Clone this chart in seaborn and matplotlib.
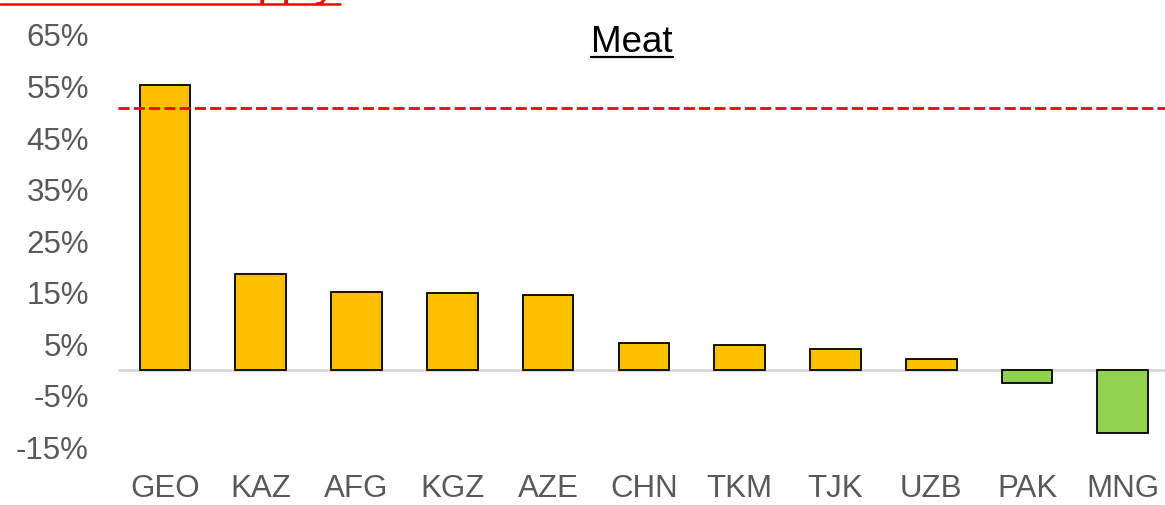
import numpy as np
import pandas as pd
import matplotlib
matplotlib.use("Agg")
import matplotlib.pyplot as plt
from matplotlib.lines import Line2D
import seaborn as sns

# Change in meat supply by country (%)
countries = ["GEO", "KAZ", "AFG", "KGZ", "AZE", "CHN", "TKM", "TJK", "UZB", "PAK", "MNG"]
change_pct = [55.3, 18.7, 15.2, 14.9, 14.5, 5.2, 4.8, 4.2, 2.1, -2.5, -12.2]
reference_pct = 50.8
y_ticks = [-15, -5, 5, 15, 25, 35, 45, 55, 65]
title_text = "Meat"
header_text = "Share of total supply"

sns.set_theme(style="white")
plt.rcParams["font.family"] = ["Liberation Sans", "DejaVu Sans"]

df = pd.DataFrame({
    "country": countries,
    "change": change_pct,
    "sign": ["up" if v >= 0 else "down" for v in change_pct],
})

W, H = 1165, 505
fig = plt.figure(figsize=(W / 100, H / 100), dpi=100)
ax = fig.add_axes([118 / W, 1 - 447.5 / H, 1 - 118 / W, (447.5 - 35) / H])

sns.barplot(
    data=df, x="country", y="change", hue="sign",
    palette={"up": "#FFC000", "down": "#92D050"}, saturation=1,
    dodge=False, width=0.53, edgecolor="black", linewidth=1.3,
    legend=False, ax=ax, zorder=3,
)

ax.set_ylim(-15, 65)
ax.set_xlim(-0.49, len(countries) - 0.56)
ax.set_yticks(y_ticks)
ax.set_yticklabels([f"{t}%" for t in y_ticks])
ax.tick_params(axis="y", length=0, pad=21, labelsize=22.5, labelcolor="#595959")
ax.tick_params(axis="x", length=0, pad=19, labelsize=22.5, labelcolor="#595959")
ax.set_xlabel("")
ax.set_ylabel("")
for s in ax.spines.values():
    s.set_visible(False)

# zero baseline
ax.axhline(0, color="#D9D9D9", lw=2, zorder=2)
# reference level
ax.axhline(reference_pct, color="#FF0000", lw=2, ls=(0, (4, 1.5)), zorder=4)

# underlined title
t = fig.text(632 / W, 1 - 52 / H, title_text, ha="center", va="baseline",
             fontsize=26.5, color="black")
fig.canvas.draw()
bb = t.get_window_extent(renderer=fig.canvas.get_renderer())
fig.add_artist(Line2D([bb.x0 / W, bb.x1 / W], [1 - 57 / H] * 2,
                      color="black", lw=1.6))

# red underlined header along the top edge
fig.text(336 / W, 1 + 4 / H, header_text, ha="right", va="baseline",
         fontsize=31, color="#FF0000")
fig.add_artist(Line2D([0, 340 / W], [1 - 3.5 / H] * 2, color="#FF0000", lw=1.8))

fig.savefig("out.png", dpi=100)
